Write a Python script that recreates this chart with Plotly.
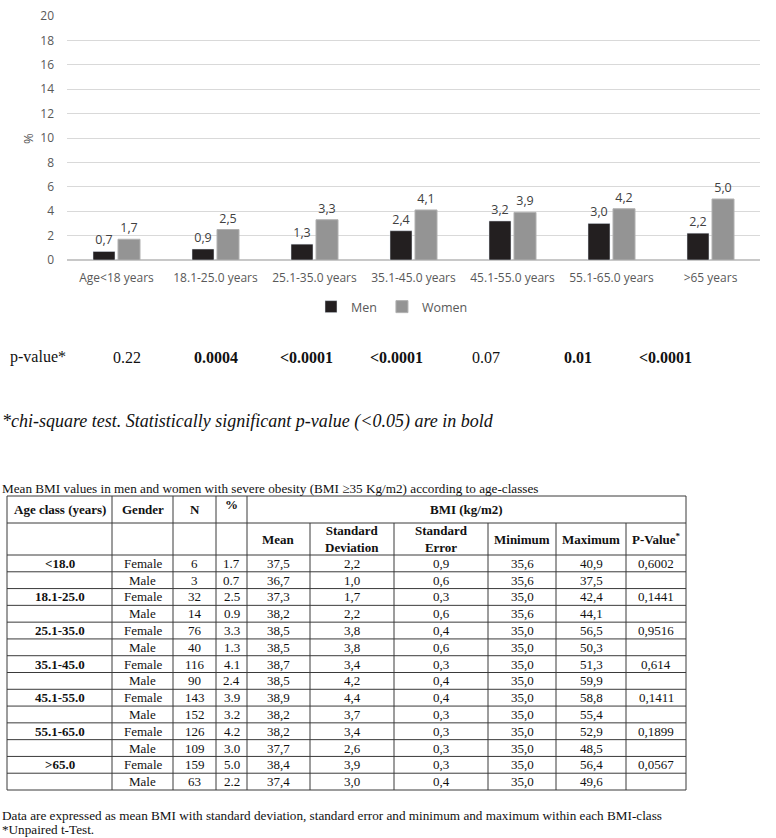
import plotly.graph_objects as go

W, H = 776, 838

# --- chart data ---
categories = ["Age<18 years", "18.1-25.0 years", "25.1-35.0 years", "35.1-45.0 years",
              "45.1-55.0 years", "55.1-65.0 years", ">65 years"]
men = [0.7, 0.9, 1.3, 2.4, 3.2, 3.0, 2.2]
women = [1.7, 2.5, 3.3, 4.1, 3.9, 4.2, 5.0]

p_values = ["0.22", "0.0004", "<0.0001", "<0.0001", "0.07", "0.01", "<0.0001"]
p_bold = [False, True, True, True, False, True, True]

# --- table data ---
age_classes = ["<18.0", "18.1-25.0", "25.1-35.0", "35.1-45.0", "45.1-55.0", "55.1-65.0", ">65.0"]
n_female = [6, 32, 76, 116, 143, 126, 159]
n_male = [3, 14, 40, 90, 152, 109, 63]
pct_female = [1.7, 2.5, 3.3, 4.1, 3.9, 4.2, 5.0]
pct_male = [0.7, 0.9, 1.3, 2.4, 3.2, 3.0, 2.2]
mean_female = [37.5, 37.3, 38.5, 38.7, 38.9, 38.2, 38.4]
mean_male = [36.7, 38.2, 38.5, 38.5, 38.2, 37.7, 37.4]
sd_female = [2.2, 1.7, 3.8, 3.4, 4.4, 3.4, 3.9]
sd_male = [1.0, 2.2, 3.8, 4.2, 3.7, 2.6, 3.0]
se_female = [0.9, 0.3, 0.4, 0.3, 0.4, 0.3, 0.3]
se_male = [0.6, 0.6, 0.6, 0.4, 0.3, 0.3, 0.4]
min_female = [35.6, 35.0, 35.0, 35.0, 35.0, 35.0, 35.0]
min_male = [35.6, 35.6, 35.0, 35.0, 35.0, 35.0, 35.0]
max_female = [40.9, 42.4, 56.5, 51.3, 58.8, 52.9, 56.4]
max_male = [37.5, 44.1, 50.3, 59.9, 55.4, 48.5, 49.6]
t_pvalues = ["0,6002", "0,1441", "0,9516", "0,614", "0,1411", "0,1899", "0,0567"]

header2 = ["Mean", "Standard<br>Deviation", "Standard<br>Error", "Minimum", "Maximum", "P-Value<sup>*</sup>"]


def comma(v):
    return f"{v:.1f}".replace(".", ",")


def px(x):
    return x / W


def py(y):
    return 1 - y / H


def esc(s):
    return str(s).replace("<", "&lt;").replace(">", "&gt;")


SERIF = "Liberation Serif"
SANS = "Open Sans"

fig = go.Figure()

fig.add_trace(go.Bar(
    x=categories, y=men, name="Men",
    marker=dict(color="#231f20"),
    text=[comma(v) for v in men], textposition="outside",
    textfont=dict(family=SANS, size=12.5, color="#404040"),
))
fig.add_trace(go.Bar(
    x=categories, y=women, name="Women",
    marker=dict(color="#949494", line=dict(color="#b0b0b0", width=1)),
    text=[comma(v) for v in women], textposition="outside",
    textfont=dict(family=SANS, size=12.5, color="#404040"),
))

annotations = []
shapes = []


def note(x, y, text, size, family=SERIF, xanchor="left", color="#111", angle=0):
    annotations.append(dict(x=px(x), y=py(y), xref="paper", yref="paper", text=text,
                            xanchor=xanchor, yanchor="middle", showarrow=False,
                            textangle=angle,
                            font=dict(family=family, size=size, color=color)))


# y-axis title
note(28, 138, "%", 13, family=SANS, xanchor="center", color="#595959", angle=-90)

# p-value row
p_x = [127, 216, 306, 397, 486, 578, 665]
note(8, 357, "p-value*", 16)
for xp, txt, b in zip(p_x, p_values, p_bold):
    note(xp, 357, f"<b>{esc(txt)}</b>" if b else esc(txt), 16, xanchor="center")

note(0, 421, "<i>*chi-square test. Statistically significant p-value (&lt;0.05) are in bold</i>", 18)

# table caption
note(0, 488, "Mean BMI values in men and women with severe obesity (BMI \u226535 Kg/m2) according to age-classes", 13.2)

# table geometry
col_edges = [7, 112, 173, 216, 247, 310, 394, 488, 556, 626, 686]
top, h1, h2, bottom = 496, 523, 555, 790
n_rows = 14
row_h = (bottom - h2) / n_rows
row_edges = [top, h1, h2] + [h2 + row_h * (i + 1) for i in range(n_rows)]

line = dict(color="#3a3a3a", width=1)
for yv in row_edges:
    shapes.append(dict(type="line", xref="paper", yref="paper",
                       x0=px(col_edges[0]), x1=px(col_edges[-1]), y0=py(yv), y1=py(yv), line=line))
for i, xv in enumerate(col_edges):
    y0 = h1 if 4 < i < len(col_edges) - 1 else top
    shapes.append(dict(type="line", xref="paper", yref="paper",
                       x0=px(xv), x1=px(xv), y0=py(y0), y1=py(bottom), line=line))


def cell(ci, yc, txt, bold=False, size=13):
    xc = (col_edges[ci] + col_edges[ci + 1]) / 2
    note(xc, yc, f"<b>{txt}</b>" if bold else txt, size, xanchor="center")


yc1 = (top + h1) / 2
cell(0, yc1, "Age class (years)", bold=True)
cell(1, yc1, "Gender", bold=True)
cell(2, yc1, "N", bold=True)
cell(3, top + 8, "%", bold=True)
note((col_edges[4] + col_edges[-1]) / 2, yc1, "<b>BMI (kg/m2)</b>", 13, xanchor="center")
yc2 = (h1 + h2) / 2
for j, t in enumerate(header2):
    cell(4 + j, yc2, t, bold=True)

for k in range(len(age_classes)):
    rows = [
        (age_classes[k], "Female", n_female[k], f"{pct_female[k]:.1f}", comma(mean_female[k]),
         comma(sd_female[k]), comma(se_female[k]), comma(min_female[k]), comma(max_female[k]), t_pvalues[k]),
        ("", "Male", n_male[k], f"{pct_male[k]:.1f}", comma(mean_male[k]),
         comma(sd_male[k]), comma(se_male[k]), comma(min_male[k]), comma(max_male[k]), ""),
    ]
    for r, vals in enumerate(rows):
        yc = h2 + row_h * (2 * k + r + 0.5)
        for ci, v in enumerate(vals):
            if v == "":
                continue
            cell(ci, yc, esc(v), bold=(ci == 0))

# notes below table
note(0, 815, "Data are expressed as mean BMI with standard deviation, standard error and minimum and maximum within each BMI-class", 13.2)
note(0, 829, "*Unpaired t-Test.", 13.2)

fig.update_layout(
    width=W, height=H,
    margin=dict(l=0, r=0, t=0, b=0, autoexpand=False),
    paper_bgcolor="white", plot_bgcolor="white",
    barmode="group", bargap=0.495, bargroupgap=0.12,
    font=dict(family=SANS, size=12, color="#595959"),
    xaxis=dict(domain=[px(67), px(760)], showgrid=False, ticks="", showline=False, automargin=False,
               ticklabelstandoff=9,
               tickfont=dict(family=SANS, size=12, color="#595959")),
    yaxis=dict(domain=[py(260), py(16)], range=[0, 20], dtick=2, showgrid=True, automargin=False,
               gridcolor="#d9d9d9", gridwidth=1, zeroline=True, zerolinecolor="#c8c8c8",
               ticks="", showline=False, ticklabelstandoff=12,
               tickfont=dict(family=SANS, size=12, color="#595959")),
    legend=dict(orientation="h", x=px(392), xanchor="center", y=py(307), yanchor="middle",
                font=dict(family=SANS, size=12.5, color="#595959"), itemwidth=30),
    annotations=annotations,
    shapes=shapes,
)

fig.write_html("out.html", config={"displayModeBar": False},
               post_script="document.body.style.margin='0';")
